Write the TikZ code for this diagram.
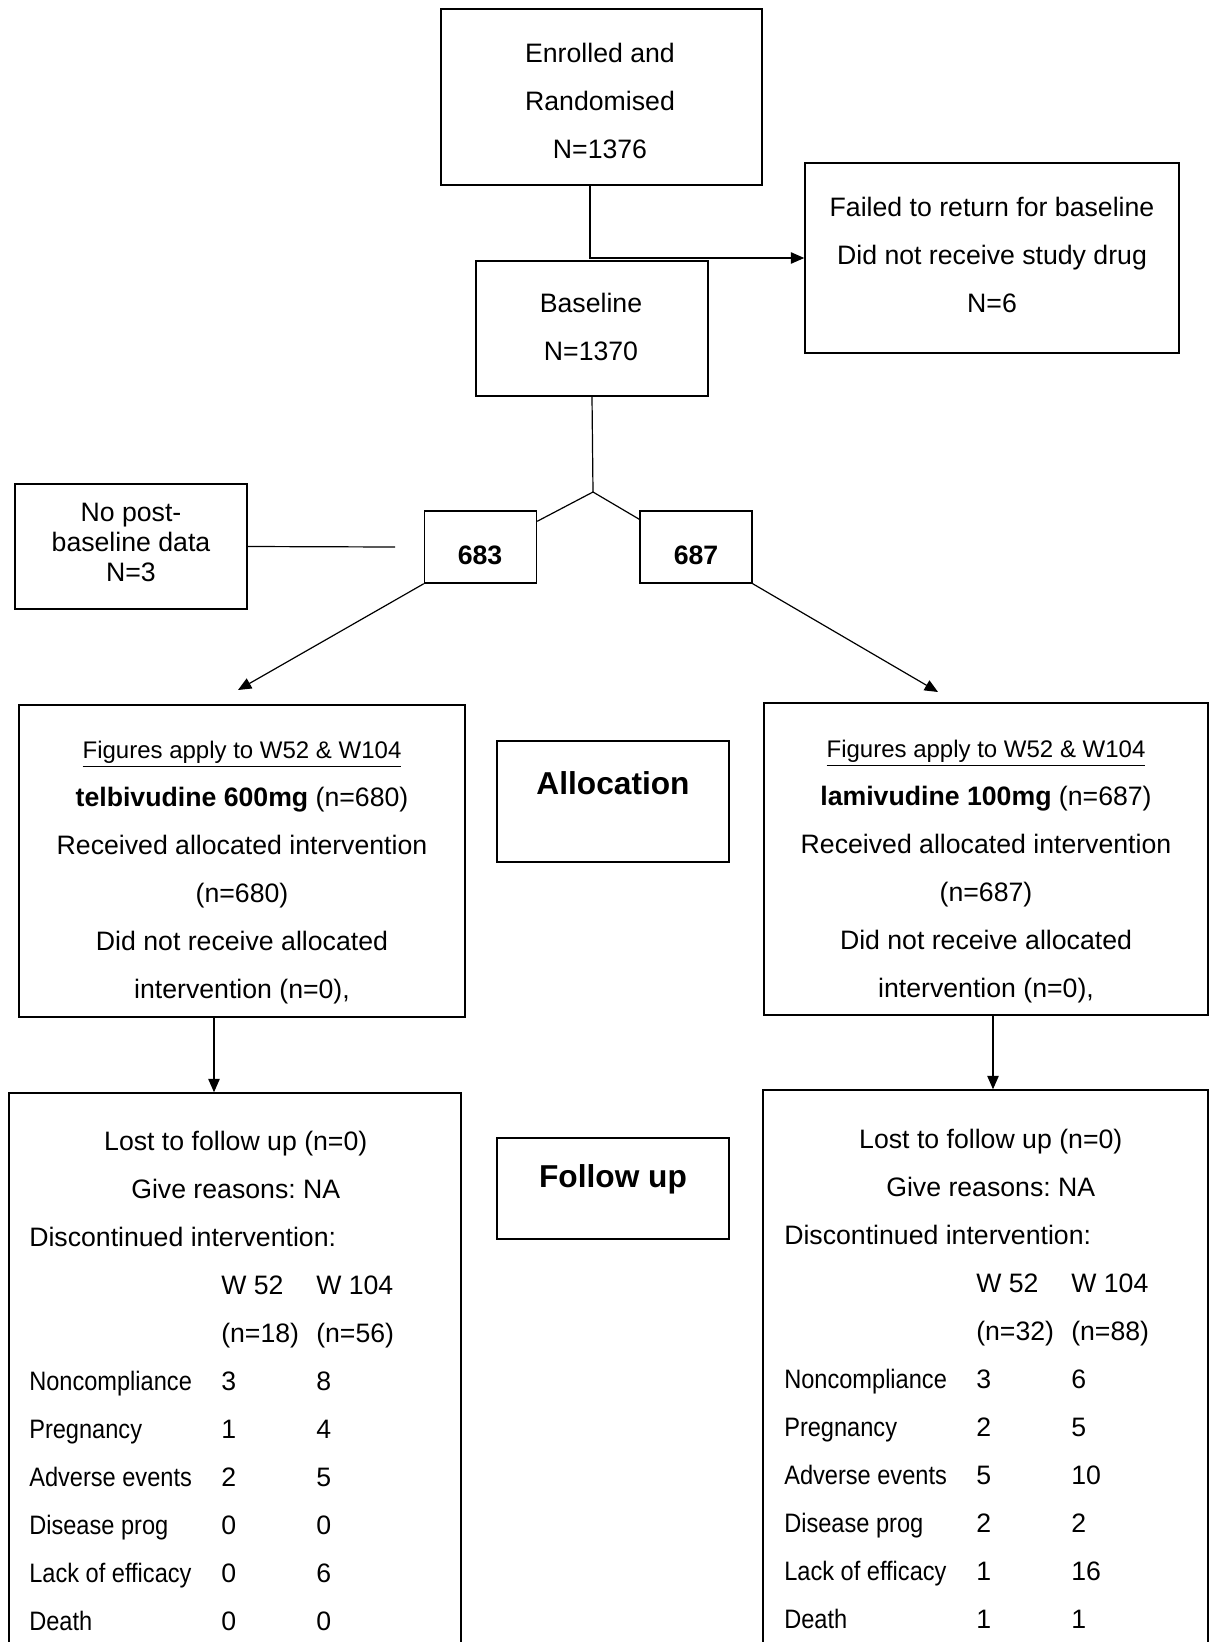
\documentclass[tikz,border=0pt]{standalone}
\usepackage{fontspec}
\usepackage{array}
\setmainfont{Liberation Sans}
\newfontfamily\rowfont[FakeStretch=0.885]{Liberation Sans}
\usetikzlibrary{arrows.meta,calc}

\tikzset{
  box/.style={draw, line width=1.1pt, inner sep=0pt},
  linkline/.style={line width=0.9pt},
  linkarrow/.style={line width=0.9pt, -{Triangle[length=10pt,width=8.5pt]}},
  txt/.style={inner sep=0pt, align=center, font=\fontsize{20}{36}\selectfont},
  numtxt/.style={inner sep=0pt, font=\fontsize{20}{24}\selectfont\bfseries},
  headtxt/.style={inner sep=0pt, font=\fontsize{23.75}{28}\selectfont\bfseries},
}

\begin{document}
\frenchspacing
\begin{tikzpicture}[x=0.75pt,y=0.75pt,yscale=-1,xscale=1]
  \useasboundingbox (0,0) rectangle (1210,1642);
  \clip (0,0) rectangle (1210,1642);

  %Shape: Rectangle
  \node [box, minimum width=240.75pt, minimum height=132pt] (enr) at (601.5,97) {};
  %Shape: Rectangle
  \node [box, minimum width=280.5pt, minimum height=142.5pt] (fail) at (992,258) {};
  %Shape: Rectangle
  \node [box, minimum width=174pt, minimum height=101.25pt] (base) at (592,328.5) {};
  %Shape: Rectangle
  \node [box, minimum width=174pt, minimum height=93.75pt] (nopost) at (131,546.5) {};
  %Shape: Rectangle
  \node [box, minimum width=84pt, minimum height=54pt] (b683) at (480.5,547) {};
  %Shape: Rectangle
  \node [box, minimum width=84pt, minimum height=54pt] (b687) at (696,547) {};
  %Shape: Rectangle
  \node [box, minimum width=334.5pt, minimum height=234pt] (allocL) at (242,861) {};
  %Shape: Rectangle
  \node [box, minimum width=174pt, minimum height=90.75pt] (allocM) at (613,801.5) {};
  %Shape: Rectangle
  \node [box, minimum width=333pt, minimum height=234pt] (allocR) at (986,859) {};
  %Shape: Rectangle
  \node [box, minimum width=339pt, minimum height=455.25pt] (folL) at (235,1396.5) {};
  %Shape: Rectangle
  \node [box, minimum width=174pt, minimum height=75.75pt] (folM) at (613,1188.5) {};
  %Shape: Rectangle
  \node [box, minimum width=333.75pt, minimum height=457.5pt] (folR) at (985.5,1395) {};

  \coordinate (split) at (593,492);
  \coordinate (nopostend) at (395,547);
  \coordinate (allocLtip) at (238,690);
  \coordinate (allocRtip) at (938,692);

  %Straight Lines
  \draw [linkarrow] (590,0 |- enr.south) |- (fail.west);
  %Straight Lines
  \draw [linkline] (base.south) -- (split);
  \draw [linkline] ($(b683.north east)+(0,11)$) -- (split) -- ($(b687.north west)+(0,9)$);
  %Straight Lines
  \draw [linkline] (nopost.east) -- (nopostend);
  %Straight Lines
  \draw [linkarrow] (b683.south west) -- (allocLtip);
  \draw [linkarrow] (b687.south east) -- (allocRtip);
  %Straight Lines
  \draw [linkarrow] (214,0 |- allocL.south) -- (214,0 |- folL.north);
  \draw [linkarrow] (993,0 |- allocR.south) -- (993,0 |- folR.north);

  % Text Node
  \node [txt] (enrtxt) at (600,100.5) {Enrolled and\\Randomised\\N=1376};
  % Text Node
  \node [txt] (failtxt) at (992,254.5) {Failed to return for baseline\\Did not receive study drug\\N=6};
  % Text Node
  \node [txt] (basetxt) at (591,327) {Baseline\\N=1370};
  % Text Node
  \node [txt, font=\fontsize{20}{22.5}\selectfont] (noposttxt) at (131,542) {No post-\\baseline data\\N=3};
  % Text Node
  \node [numtxt] (t683) at (480,555) {683};
  \node [numtxt] (t687) at (696,555) {687};
  % Text Node
  \node [txt] (allocLtxt) at (242,873) {{\fontsize{18}{36}\selectfont\underline{Figures apply to W52 \& W104}}\\\textbf{telbivudine 600mg} (n=680)\\Received allocated intervention\\(n=680)\\Did not receive allocated\\intervention (n=0),};
  % Text Node
  \node [txt] (allocRtxt) at (986,872) {{\fontsize{18}{36}\selectfont\underline{Figures apply to W52 \& W104}}\\\textbf{lamivudine 100mg} (n=687)\\Received allocated intervention\\(n=687)\\Did not receive allocated\\intervention (n=0),};
  % Text Node
  \node [headtxt] (allocMtxt) at (613,783) {Allocation};
  \node [headtxt] (folMtxt) at (613,1179) {Follow up};
  % Text Node
  \node [txt, anchor=west] (folLtxt) at (29,1381) {%
    \begin{tabular}{@{}>{\rowfont}p{144pt}@{}p{71.25pt}@{}p{94.5pt}@{}}
      \multicolumn{3}{@{}c@{}}{Lost to follow up (n=0)}\\
      \multicolumn{3}{@{}c@{}}{Give reasons: NA}\\
      \multicolumn{3}{@{}l@{}}{Discontinued intervention:}\\
      & W 52 & W 104\\
      & (n=18) & (n=56)\\
      Noncompliance & 3 & 8\\
      Pregnancy & 1 & 4\\
      Adverse events & 2 & 5\\
      Disease prog & 0 & 0\\
      Lack of efficacy & 0 & 6\\
      Death & 0 & 0
    \end{tabular}};
  % Text Node
  \node [txt, anchor=west] (folRtxt) at (784,1378.5) {%
    \begin{tabular}{@{}>{\rowfont}p{144pt}@{}p{71.25pt}@{}p{94.5pt}@{}}
      \multicolumn{3}{@{}c@{}}{Lost to follow up (n=0)}\\
      \multicolumn{3}{@{}c@{}}{Give reasons: NA}\\
      \multicolumn{3}{@{}l@{}}{Discontinued intervention:}\\
      & W 52 & W 104\\
      & (n=32) & (n=88)\\
      Noncompliance & 3 & 6\\
      Pregnancy & 2 & 5\\
      Adverse events & 5 & 10\\
      Disease prog & 2 & 2\\
      Lack of efficacy & 1 & 16\\
      Death & 1 & 1
    \end{tabular}};

\end{tikzpicture}
\end{document}
